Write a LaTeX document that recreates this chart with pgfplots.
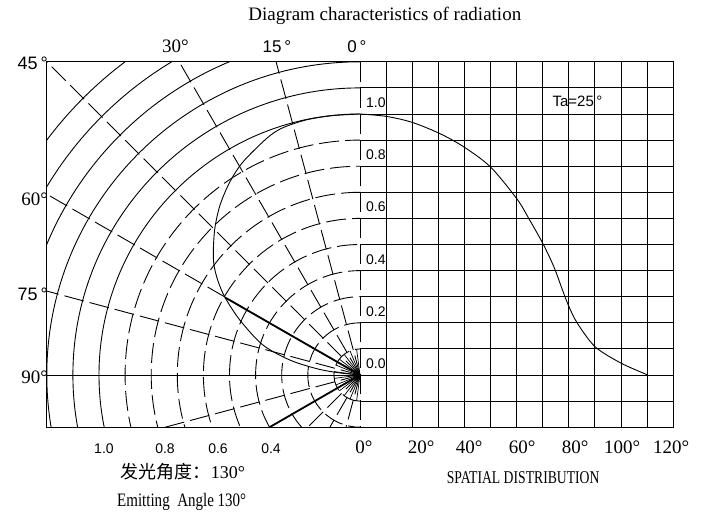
\documentclass[border=0pt]{standalone}
\usepackage{fontspec}
\setmainfont{Liberation Serif}
\setsansfont{Liberation Sans}
\newfontfamily\cjk{Noto Sans CJK SC}
\usepackage{pgfplots}
\pgfplotsset{compat=1.18}
\usepackage{pgfplotstable}

% relative intensity vs angle (right grid), angle in degrees
\pgfplotstableread{
deg I
0     1.000
10    0.991
20    0.968
30.8  0.924
40.1  0.872
50.1  0.796
60.1  0.675
64.7  0.599
70.1  0.503
74.3  0.414
77.6  0.325
80.1  0.261
83.3  0.198
90.1  0.108
100.1 0.045
110.3 0.000
}\spatial

% same pattern drawn on the polar half (x,y in units of intensity)
\pgfplotstableread{
X Y
0      1.000
-0.103 0.994
-0.190 0.981
-0.245 0.966
-0.305 0.943
-0.357 0.907
-0.447 0.818
-0.498 0.741
-0.536 0.652
-0.556 0.563
-0.562 0.475
-0.559 0.418
-0.544 0.360
-0.517 0.297
-0.460 0.210
-0.372 0.115
-0.268 0.057
-0.161 0.023
-0.077 0.008
0      0
}\polar

\newcommand\fs[1]{\fontsize{#1}{#1}\selectfont}

\begin{document}
\begin{tikzpicture}[line cap=butt]
\tikzset{dsh/.style={dash pattern=on 20bp off 6bp}}
\begin{axis}[
    x=261bp, y=261bp,
    xmin=-1.2, xmax=1.2,
    ymin=-0.2, ymax=1.2,
    xtick=\empty, ytick=\empty,
    axis line style={line width=1bp},
    clip=false,
    every axis plot/.append style={line width=0.9bp},
]
\coordinate (bbsw) at (axis cs:-1.3793,-0.5287);
\coordinate (bbne) at (axis cs:1.318,1.4368);

% right grid
\pgfplotsinvokeforeach{0.1,0.2,0.3,0.4,0.5,0.6,0.7,0.8,0.9,1.0,1.1}{
  \draw[line width=0.9bp] (axis cs:#1,-0.2) -- (axis cs:#1,1.2);}
\pgfplotsinvokeforeach{-0.1,0.1,0.2,0.3,0.4,0.5,0.6,0.7,0.8,0.9,1.0,1.1}{
  \draw[line width=0.9bp] (axis cs:0,#1) -- (axis cs:1.2,#1);}
\draw[line width=0.9bp] (axis cs:-1.2,0) -- (axis cs:1.2,0);
\draw[line width=0.9bp,dsh] (axis cs:0,1.2) -- (axis cs:0,-0.2);

% polar half
\begin{scope}
\clip (axis cs:-1.2,-0.2) rectangle (axis cs:0,1.2);
\pgfplotsinvokeforeach{1.0,1.1,1.2,1.3,1.4,1.5}{
  \draw[line width=0.9bp] (axis cs:0,0) circle[radius=#1];}
\pgfplotsinvokeforeach{0.1,0.2,0.3,0.4,0.5,0.6,0.7,0.8,0.9}{
  \draw[line width=0.9bp,dsh] (axis cs:0,0) circle[radius=#1];}
\pgfplotsinvokeforeach{15,30,45,60,75,105,135,150,165}{
  \draw[line width=0.9bp,dsh] (axis cs:0,0) -- (axis cs:{-2*sin(#1)},{2*cos(#1)});}
\pgfplotsinvokeforeach{7.5,22.5,37.5,52.5,67.5,82.5,97.5,112.5,127.5,142.5,157.5,172.5}{
  \draw[line width=0.7bp] (axis cs:0,0) -- (axis cs:{-0.1*sin(#1)},{0.1*cos(#1)});}
\end{scope}
\draw[line width=1.8bp] (axis cs:0,0) -- (axis cs:-0.517,0.297);
\draw[line width=1.8bp] (axis cs:0,0) -- (axis cs:-0.3464,-0.2);

\addplot[black, smooth, tension=0.5] table[x=X, y=Y] {\polar};
\addplot[black, smooth, tension=0.5] table[x expr=\thisrow{deg}/100, y=I] {\spatial};

% texts
\node[anchor=base west, inner sep=0] at (axis cs:-0.428,1.360) {\fs{19bp}Diagram characteristics of radiation};
\node[anchor=base, inner sep=0] at (axis cs:-0.707,1.2375) {\fs{19bp}30°};
\node[anchor=base, inner sep=0] at (axis cs:-0.318,1.2375) {\sffamily\fs{17bp}15\,°};
\node[anchor=base, inner sep=0] at (axis cs:-0.012,1.2375) {\sffamily\fs{17bp}0\,°};
\node[anchor=base east, inner sep=0] at (axis cs:-1.195,1.1686) {\sffamily\fs{18bp}45\,°};
\node[anchor=base east, inner sep=0] at (axis cs:-1.195,0.651) {\fs{19bp}60°};
\node[anchor=base east, inner sep=0] at (axis cs:-1.195,0.287) {\sffamily\fs{18bp}75\,°};
\node[anchor=base east, inner sep=0] at (axis cs:-1.195,-0.031) {\fs{19bp}90°};
\pgfplotsinvokeforeach{1.0,0.8,0.6,0.4,0.2,0.0}{
  \node[anchor=base west, inner sep=0] at (axis cs:0.023,#1+0.025) {\sffamily\fs{14bp}#1};}
\node[anchor=base west, inner sep=0] at (axis cs:0.737,1.027) {\sffamily\fs{15bp}Ta=25\,°};
\node[anchor=base, inner sep=0] at (axis cs:-0.981,-0.299) {\sffamily\fs{14bp}1.0};
\node[anchor=base, inner sep=0] at (axis cs:-0.747,-0.299) {\sffamily\fs{14bp}0.8};
\node[anchor=base, inner sep=0] at (axis cs:-0.544,-0.299) {\sffamily\fs{14bp}0.6};
\node[anchor=base, inner sep=0] at (axis cs:-0.341,-0.299) {\sffamily\fs{14bp}0.4};
\node[anchor=base, inner sep=0] at (axis cs:0.015,-0.299) {\fs{19bp}0°};
\node[anchor=base, inner sep=0] at (axis cs:0.234,-0.299) {\fs{19bp}20°};
\node[anchor=base, inner sep=0] at (axis cs:0.418,-0.299) {\fs{19bp}40°};
\node[anchor=base, inner sep=0] at (axis cs:0.621,-0.299) {\fs{19bp}60°};
\node[anchor=base, inner sep=0] at (axis cs:0.824,-0.299) {\fs{19bp}80°};
\node[anchor=base, inner sep=0] at (axis cs:1.004,-0.299) {\fs{19bp}100°};
\node[anchor=base, inner sep=0] at (axis cs:1.192,-0.299) {\fs{19bp}120°};
\node[anchor=base west, inner sep=0] at (axis cs:-0.917,-0.398) {\fs{18bp}{\cjk 发光角度：}130°};
\node[anchor=base west, inner sep=0] at (axis cs:-0.931,-0.502) {\scalebox{0.79}[1]{\fs{19bp}Emitting\ \ Angle 130°}};
\node[anchor=base west, inner sep=0] at (axis cs:0.332,-0.414) {\scalebox{0.76}[1]{\fs{18bp}SPATIAL DISTRIBUTION}};
\end{axis}
\pgfresetboundingbox
\path (bbsw) rectangle (bbne);
\end{tikzpicture}
\end{document}
